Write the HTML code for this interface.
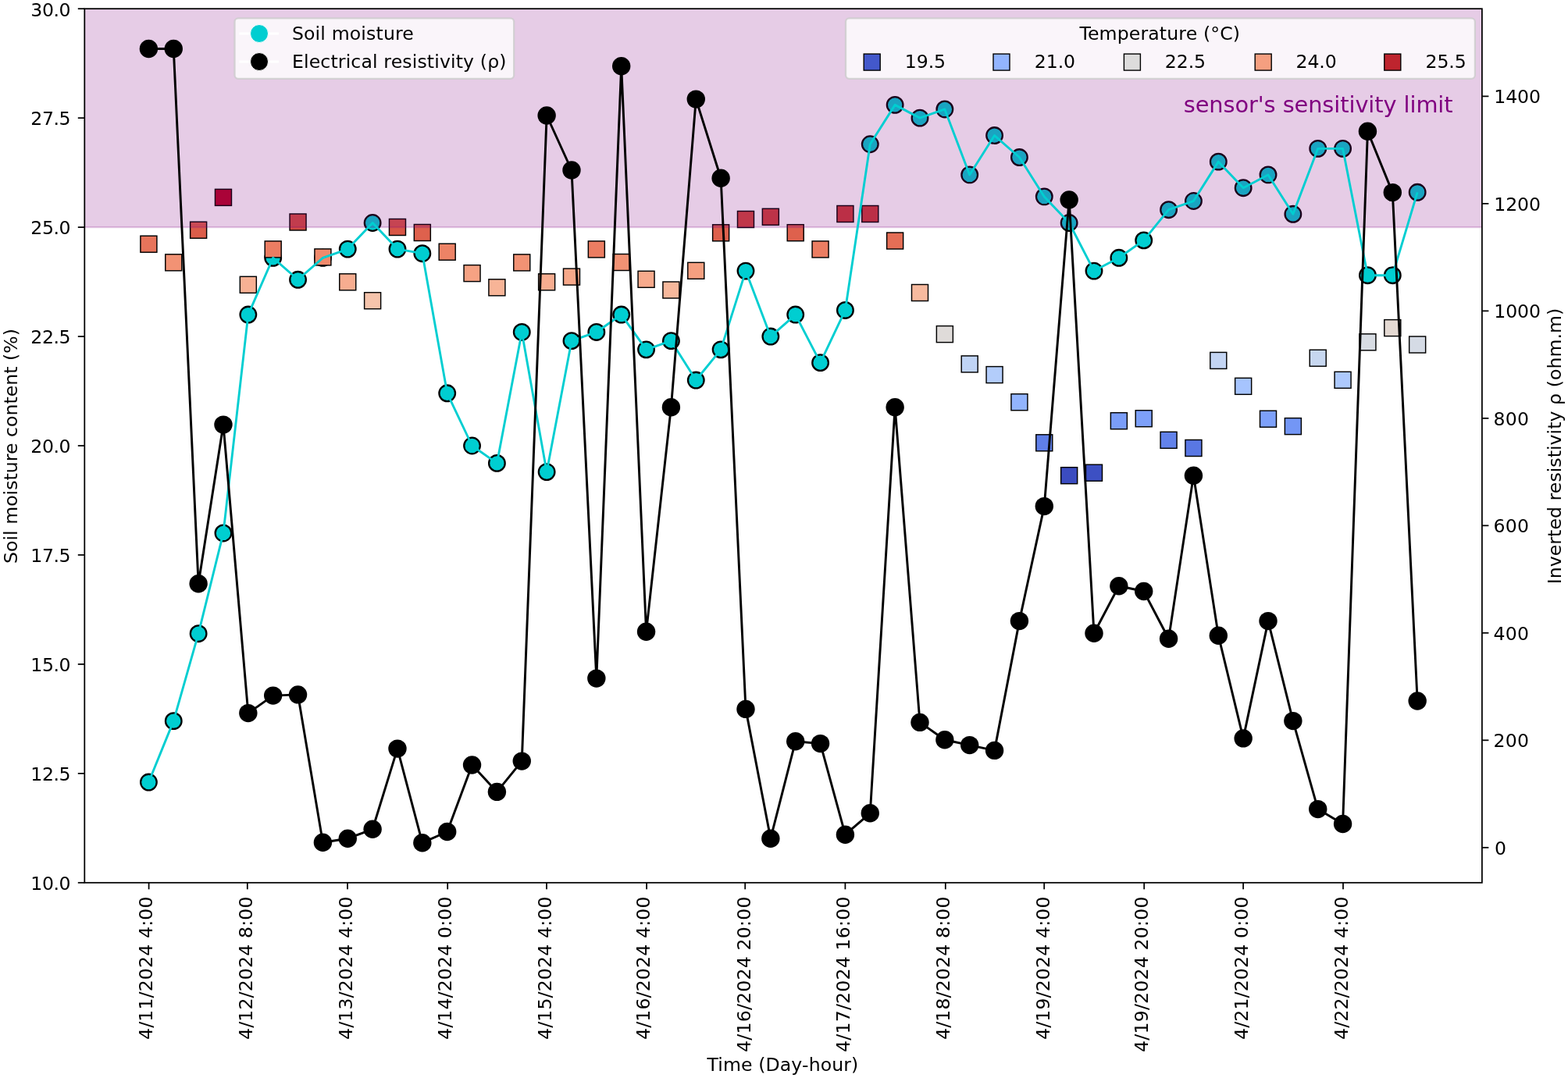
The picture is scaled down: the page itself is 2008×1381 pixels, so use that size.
<!DOCTYPE html>
<html lang="en">
<head>
<meta charset="utf-8">
<title>Soil moisture and electrical resistivity</title>
<style>
html,body{margin:0;padding:0;background:#fff;}
body{width:2008px;height:1381px;overflow:hidden;}
svg{display:block;}
</style>
</head>
<body>
<svg width="2008" height="1381" viewBox="0 0 2008 1381" font-family="'DejaVu Sans','Liberation Sans',sans-serif" font-size="23.6" fill="#000">
<rect x="0" y="0" width="2008" height="1381" fill="#fff"/>
<defs><filter id="soft" filterUnits="userSpaceOnUse" x="0" y="0" width="2008" height="1381" color-interpolation-filters="sRGB"><feGaussianBlur stdDeviation="0.55"/></filter></defs>
<g filter="url(#soft)">
<rect x="-20" y="-20" width="2048" height="1421" fill="#fff"/>
<defs><clipPath id="ax"><rect x="108.3" y="11.2" width="1789.6000000000001" height="1119.6"/></clipPath></defs>
<g clip-path="url(#ax)">
<g fill="#00ced1" stroke="#000" stroke-width="2.3">
<circle cx="190.40" cy="1002.05" r="10.3"/>
<circle cx="222.26" cy="923.67" r="10.3"/>
<circle cx="254.12" cy="811.71" r="10.3"/>
<circle cx="285.97" cy="682.96" r="10.3"/>
<circle cx="317.83" cy="403.06" r="10.3"/>
<circle cx="349.69" cy="330.29" r="10.3"/>
<circle cx="381.55" cy="358.28" r="10.3"/>
<circle cx="413.41" cy="330.29" r="10.3"/>
<circle cx="445.26" cy="319.09" r="10.3"/>
<circle cx="477.12" cy="285.50" r="10.3"/>
<circle cx="508.98" cy="319.09" r="10.3"/>
<circle cx="540.84" cy="324.69" r="10.3"/>
<circle cx="572.70" cy="503.82" r="10.3"/>
<circle cx="604.55" cy="571.00" r="10.3"/>
<circle cx="636.41" cy="593.39" r="10.3"/>
<circle cx="668.27" cy="425.45" r="10.3"/>
<circle cx="700.13" cy="604.59" r="10.3"/>
<circle cx="731.99" cy="436.65" r="10.3"/>
<circle cx="763.84" cy="425.45" r="10.3"/>
<circle cx="795.70" cy="403.06" r="10.3"/>
<circle cx="827.56" cy="447.84" r="10.3"/>
<circle cx="859.42" cy="436.65" r="10.3"/>
<circle cx="891.28" cy="487.03" r="10.3"/>
<circle cx="923.13" cy="447.84" r="10.3"/>
<circle cx="954.99" cy="347.08" r="10.3"/>
<circle cx="986.85" cy="431.05" r="10.3"/>
<circle cx="1018.71" cy="403.06" r="10.3"/>
<circle cx="1050.57" cy="464.64" r="10.3"/>
<circle cx="1082.42" cy="397.46" r="10.3"/>
<circle cx="1114.28" cy="184.74" r="10.3"/>
<circle cx="1146.14" cy="134.36" r="10.3"/>
<circle cx="1178.00" cy="151.15" r="10.3"/>
<circle cx="1209.86" cy="139.95" r="10.3"/>
<circle cx="1241.71" cy="223.92" r="10.3"/>
<circle cx="1273.57" cy="173.54" r="10.3"/>
<circle cx="1305.43" cy="201.53" r="10.3"/>
<circle cx="1337.29" cy="251.91" r="10.3"/>
<circle cx="1369.15" cy="285.50" r="10.3"/>
<circle cx="1401.00" cy="347.08" r="10.3"/>
<circle cx="1432.86" cy="330.29" r="10.3"/>
<circle cx="1464.72" cy="307.89" r="10.3"/>
<circle cx="1496.58" cy="268.71" r="10.3"/>
<circle cx="1528.44" cy="257.51" r="10.3"/>
<circle cx="1560.29" cy="207.13" r="10.3"/>
<circle cx="1592.15" cy="240.72" r="10.3"/>
<circle cx="1624.01" cy="223.92" r="10.3"/>
<circle cx="1655.87" cy="274.31" r="10.3"/>
<circle cx="1687.73" cy="190.34" r="10.3"/>
<circle cx="1719.58" cy="190.34" r="10.3"/>
<circle cx="1751.44" cy="352.68" r="10.3"/>
<circle cx="1783.30" cy="352.68" r="10.3"/>
<circle cx="1815.16" cy="246.32" r="10.3"/>
</g>
<g stroke="#000" stroke-width="1.45">
<rect x="179.90" y="302.20" width="21.0" height="21.0" fill="#e7745b"/>
<rect x="211.76" y="325.80" width="21.0" height="21.0" fill="#f29274"/>
<rect x="243.62" y="284.20" width="21.0" height="21.0" fill="#dc5d4a"/>
<rect x="275.47" y="242.40" width="21.0" height="21.0" fill="#b40426"/>
<rect x="307.33" y="354.30" width="21.0" height="21.0" fill="#f7b194"/>
<rect x="339.19" y="308.90" width="21.0" height="21.0" fill="#eb7d62"/>
<rect x="371.05" y="274.00" width="21.0" height="21.0" fill="#d24b40"/>
<rect x="402.91" y="318.90" width="21.0" height="21.0" fill="#f08a6c"/>
<rect x="434.76" y="350.80" width="21.0" height="21.0" fill="#f7ad90"/>
<rect x="466.62" y="374.70" width="21.0" height="21.0" fill="#f5c4ac"/>
<rect x="498.48" y="280.50" width="21.0" height="21.0" fill="#d85646"/>
<rect x="530.34" y="287.50" width="21.0" height="21.0" fill="#de614d"/>
<rect x="562.20" y="312.20" width="21.0" height="21.0" fill="#ed8366"/>
<rect x="594.05" y="339.60" width="21.0" height="21.0" fill="#f6a283"/>
<rect x="625.91" y="357.80" width="21.0" height="21.0" fill="#f7b497"/>
<rect x="657.77" y="325.90" width="21.0" height="21.0" fill="#f29274"/>
<rect x="689.63" y="350.80" width="21.0" height="21.0" fill="#f7ad90"/>
<rect x="721.49" y="344.10" width="21.0" height="21.0" fill="#f7a889"/>
<rect x="753.34" y="308.90" width="21.0" height="21.0" fill="#eb7d62"/>
<rect x="785.20" y="325.50" width="21.0" height="21.0" fill="#f29274"/>
<rect x="817.06" y="347.30" width="21.0" height="21.0" fill="#f7aa8c"/>
<rect x="848.92" y="361.00" width="21.0" height="21.0" fill="#f7b89c"/>
<rect x="880.78" y="336.30" width="21.0" height="21.0" fill="#f59f80"/>
<rect x="912.63" y="287.80" width="21.0" height="21.0" fill="#de614d"/>
<rect x="944.49" y="270.50" width="21.0" height="21.0" fill="#d0473d"/>
<rect x="976.35" y="267.30" width="21.0" height="21.0" fill="#cc403a"/>
<rect x="1008.21" y="287.70" width="21.0" height="21.0" fill="#de614d"/>
<rect x="1040.07" y="308.90" width="21.0" height="21.0" fill="#eb7d62"/>
<rect x="1071.92" y="263.50" width="21.0" height="21.0" fill="#ca3b37"/>
<rect x="1103.78" y="263.50" width="21.0" height="21.0" fill="#ca3b37"/>
<rect x="1135.64" y="298.00" width="21.0" height="21.0" fill="#e46e56"/>
<rect x="1167.50" y="364.50" width="21.0" height="21.0" fill="#f7ba9f"/>
<rect x="1199.36" y="417.60" width="21.0" height="21.0" fill="#dfdbd9"/>
<rect x="1231.21" y="455.90" width="21.0" height="21.0" fill="#c0d4f5"/>
<rect x="1263.07" y="469.60" width="21.0" height="21.0" fill="#b3cdfb"/>
<rect x="1294.93" y="504.70" width="21.0" height="21.0" fill="#92b4fe"/>
<rect x="1326.79" y="556.80" width="21.0" height="21.0" fill="#5f7fe8"/>
<rect x="1358.65" y="598.70" width="21.0" height="21.0" fill="#3b4cc0"/>
<rect x="1390.50" y="595.20" width="21.0" height="21.0" fill="#3d50c3"/>
<rect x="1422.36" y="528.70" width="21.0" height="21.0" fill="#7a9df8"/>
<rect x="1454.22" y="525.70" width="21.0" height="21.0" fill="#7da0f9"/>
<rect x="1486.08" y="553.30" width="21.0" height="21.0" fill="#6282ea"/>
<rect x="1517.94" y="563.50" width="21.0" height="21.0" fill="#5977e3"/>
<rect x="1549.79" y="451.40" width="21.0" height="21.0" fill="#c4d5f3"/>
<rect x="1581.65" y="484.30" width="21.0" height="21.0" fill="#a6c4fe"/>
<rect x="1613.51" y="526.20" width="21.0" height="21.0" fill="#7da0f9"/>
<rect x="1645.37" y="535.60" width="21.0" height="21.0" fill="#7396f5"/>
<rect x="1677.23" y="448.20" width="21.0" height="21.0" fill="#c7d7f0"/>
<rect x="1709.08" y="476.30" width="21.0" height="21.0" fill="#adc9fd"/>
<rect x="1740.94" y="427.80" width="21.0" height="21.0" fill="#d7dce3"/>
<rect x="1772.80" y="409.60" width="21.0" height="21.0" fill="#e4d9d2"/>
<rect x="1804.66" y="431.00" width="21.0" height="21.0" fill="#d5dbe5"/>
</g>
<rect x="103.3" y="6.199999999999999" width="1799.6000000000001" height="284.90" fill="#800080" fill-opacity="0.2" stroke="#800080" stroke-opacity="0.2" stroke-width="2.3"/>
<polyline points="190.40,1002.05 222.26,923.67 254.12,811.71 285.97,682.96 317.83,403.06 349.69,330.29 381.55,358.28 413.41,330.29 445.26,319.09 477.12,285.50 508.98,319.09 540.84,324.69 572.70,503.82 604.55,571.00 636.41,593.39 668.27,425.45 700.13,604.59 731.99,436.65 763.84,425.45 795.70,403.06 827.56,447.84 859.42,436.65 891.28,487.03 923.13,447.84 954.99,347.08 986.85,431.05 1018.71,403.06 1050.57,464.64 1082.42,397.46 1114.28,184.74 1146.14,134.36 1178.00,151.15 1209.86,139.95 1241.71,223.92 1273.57,173.54 1305.43,201.53 1337.29,251.91 1369.15,285.50 1401.00,347.08 1432.86,330.29 1464.72,307.89 1496.58,268.71 1528.44,257.51 1560.29,207.13 1592.15,240.72 1624.01,223.92 1655.87,274.31 1687.73,190.34 1719.58,190.34 1751.44,352.68 1783.30,352.68 1815.16,246.32" fill="none" stroke="#00ced1" stroke-width="2.9" stroke-linejoin="round" stroke-linecap="butt"/>
</g>
<text x="1515.8" y="144.0" font-size="28.8" fill="#800080" textLength="344.8" lengthAdjust="spacing">sensor's sensitivity limit</text>
<rect x="300.5" y="23.4" width="357.70000000000005" height="77.5" rx="4.6" ry="4.6" fill="#fff" fill-opacity="0.8" stroke="#ccc" stroke-opacity="0.8" stroke-width="2.3"/>
<line x1="308.0" y1="43.0" x2="355.4" y2="43.0" stroke="#fff" stroke-width="3.1" stroke-linecap="square"/>
<circle cx="332" cy="43.0" r="11.5" fill="#00ced1" stroke="#fff" stroke-width="1.0"/>
<text x="373.9" y="51.4" textLength="156.0" lengthAdjust="spacing">Soil moisture</text>
<line x1="308.0" y1="79.0" x2="355.4" y2="79.0" stroke="#fff" stroke-width="3.1" stroke-linecap="square"/>
<circle cx="332" cy="79.0" r="11.5" fill="#000" stroke="#fff" stroke-width="1.0"/>
<text x="373.9" y="87.4" textLength="274.6" lengthAdjust="spacing">Electrical resistivity (ρ)</text>
<rect x="1083.0" y="23.4" width="805.9000000000001" height="77.5" rx="4.6" ry="4.6" fill="#fff" fill-opacity="0.8" stroke="#ccc" stroke-opacity="0.8" stroke-width="2.3"/>
<text x="1485.2" y="51.4" text-anchor="middle" textLength="205.5" lengthAdjust="spacing">Temperature (°C)</text>
<rect x="1106.20" y="69.10" width="21.0" height="21.0" fill="#4358cb" stroke="#000" stroke-width="1.4"/>
<text x="1158.8" y="87.4" textLength="52.3" lengthAdjust="spacing">19.5</text>
<rect x="1272.00" y="69.10" width="21.0" height="21.0" fill="#92b4fe" stroke="#000" stroke-width="1.4"/>
<text x="1324.8" y="87.4" textLength="52.3" lengthAdjust="spacing">21.0</text>
<rect x="1439.40" y="69.10" width="21.0" height="21.0" fill="#dddcdc" stroke="#000" stroke-width="1.4"/>
<text x="1491.8" y="87.4" textLength="52.3" lengthAdjust="spacing">22.5</text>
<rect x="1607.20" y="69.10" width="21.0" height="21.0" fill="#f59f80" stroke="#000" stroke-width="1.4"/>
<text x="1659.5" y="87.4" textLength="52.3" lengthAdjust="spacing">24.0</text>
<rect x="1772.80" y="69.10" width="21.0" height="21.0" fill="#be242e" stroke="#000" stroke-width="1.4"/>
<text x="1825.5" y="87.4" textLength="52.3" lengthAdjust="spacing">25.5</text>
<g stroke="#000" stroke-width="1.75" fill="none">
<line x1="99.80" y1="1130.80" x2="108.3" y2="1130.80"/>
<line x1="99.80" y1="990.85" x2="108.3" y2="990.85"/>
<line x1="99.80" y1="850.90" x2="108.3" y2="850.90"/>
<line x1="99.80" y1="710.95" x2="108.3" y2="710.95"/>
<line x1="99.80" y1="571.00" x2="108.3" y2="571.00"/>
<line x1="99.80" y1="431.05" x2="108.3" y2="431.05"/>
<line x1="99.80" y1="291.10" x2="108.3" y2="291.10"/>
<line x1="99.80" y1="151.15" x2="108.3" y2="151.15"/>
<line x1="99.80" y1="11.20" x2="108.3" y2="11.20"/>
<line x1="1897.9" y1="1085.80" x2="1906.40" y2="1085.80"/>
<line x1="1897.9" y1="948.31" x2="1906.40" y2="948.31"/>
<line x1="1897.9" y1="810.82" x2="1906.40" y2="810.82"/>
<line x1="1897.9" y1="673.33" x2="1906.40" y2="673.33"/>
<line x1="1897.9" y1="535.84" x2="1906.40" y2="535.84"/>
<line x1="1897.9" y1="398.35" x2="1906.40" y2="398.35"/>
<line x1="1897.9" y1="260.86" x2="1906.40" y2="260.86"/>
<line x1="1897.9" y1="123.37" x2="1906.40" y2="123.37"/>
<line x1="190.60" y1="1130.8" x2="190.60" y2="1139.30"/>
<line x1="316.80" y1="1130.8" x2="316.80" y2="1139.30"/>
<line x1="445.00" y1="1130.8" x2="445.00" y2="1139.30"/>
<line x1="573.20" y1="1130.8" x2="573.20" y2="1139.30"/>
<line x1="700.00" y1="1130.8" x2="700.00" y2="1139.30"/>
<line x1="828.10" y1="1130.8" x2="828.10" y2="1139.30"/>
<line x1="954.20" y1="1130.8" x2="954.20" y2="1139.30"/>
<line x1="1082.40" y1="1130.8" x2="1082.40" y2="1139.30"/>
<line x1="1210.80" y1="1130.8" x2="1210.80" y2="1139.30"/>
<line x1="1337.20" y1="1130.8" x2="1337.20" y2="1139.30"/>
<line x1="1465.20" y1="1130.8" x2="1465.20" y2="1139.30"/>
<line x1="1592.10" y1="1130.8" x2="1592.10" y2="1139.30"/>
<line x1="1720.00" y1="1130.8" x2="1720.00" y2="1139.30"/>
<rect x="108.3" y="11.2" width="1789.60" height="1119.60" stroke-linejoin="miter"/>
</g>
<text x="90.6" y="1140.10" text-anchor="end" textLength="51.3" lengthAdjust="spacing">10.0</text>
<text x="90.6" y="1000.15" text-anchor="end" textLength="51.3" lengthAdjust="spacing">12.5</text>
<text x="90.6" y="860.20" text-anchor="end" textLength="51.3" lengthAdjust="spacing">15.0</text>
<text x="90.6" y="720.25" text-anchor="end" textLength="51.3" lengthAdjust="spacing">17.5</text>
<text x="90.6" y="580.30" text-anchor="end" textLength="51.3" lengthAdjust="spacing">20.0</text>
<text x="90.6" y="440.35" text-anchor="end" textLength="51.3" lengthAdjust="spacing">22.5</text>
<text x="90.6" y="300.40" text-anchor="end" textLength="51.3" lengthAdjust="spacing">25.0</text>
<text x="90.6" y="160.45" text-anchor="end" textLength="51.3" lengthAdjust="spacing">27.5</text>
<text x="90.6" y="20.50" text-anchor="end" textLength="51.3" lengthAdjust="spacing">30.0</text>
<text x="1914.0" y="1094.70" textLength="15.3" lengthAdjust="spacing">0</text>
<text x="1912.4" y="957.21" textLength="45.7" lengthAdjust="spacing">200</text>
<text x="1912.4" y="819.72" textLength="45.7" lengthAdjust="spacing">400</text>
<text x="1912.4" y="682.23" textLength="45.7" lengthAdjust="spacing">600</text>
<text x="1912.4" y="544.74" textLength="45.7" lengthAdjust="spacing">800</text>
<text x="1913.3" y="407.25" textLength="59.6" lengthAdjust="spacing">1000</text>
<text x="1913.3" y="269.76" textLength="59.6" lengthAdjust="spacing">1200</text>
<text x="1913.3" y="132.27" textLength="59.6" lengthAdjust="spacing">1400</text>
<text transform="translate(194.60,1148.6) rotate(-90)" text-anchor="end" textLength="183.4" lengthAdjust="spacing">4/11/2024 4:00</text>
<text transform="translate(322.93,1148.6) rotate(-90)" text-anchor="end" textLength="183.4" lengthAdjust="spacing">4/12/2024 8:00</text>
<text transform="translate(450.96,1148.6) rotate(-90)" text-anchor="end" textLength="183.4" lengthAdjust="spacing">4/13/2024 4:00</text>
<text transform="translate(578.10,1148.6) rotate(-90)" text-anchor="end" textLength="183.4" lengthAdjust="spacing">4/14/2024 0:00</text>
<text transform="translate(705.83,1148.6) rotate(-90)" text-anchor="end" textLength="183.4" lengthAdjust="spacing">4/15/2024 4:00</text>
<text transform="translate(831.76,1148.6) rotate(-90)" text-anchor="end" textLength="183.4" lengthAdjust="spacing">4/16/2024 4:00</text>
<text transform="translate(960.79,1148.6) rotate(-90)" text-anchor="end" textLength="199.3" lengthAdjust="spacing">4/16/2024 20:00</text>
<text transform="translate(1088.12,1148.6) rotate(-90)" text-anchor="end" textLength="199.3" lengthAdjust="spacing">4/17/2024 16:00</text>
<text transform="translate(1215.56,1148.6) rotate(-90)" text-anchor="end" textLength="183.4" lengthAdjust="spacing">4/18/2024 8:00</text>
<text transform="translate(1343.89,1148.6) rotate(-90)" text-anchor="end" textLength="183.4" lengthAdjust="spacing">4/19/2024 4:00</text>
<text transform="translate(1470.42,1148.6) rotate(-90)" text-anchor="end" textLength="199.3" lengthAdjust="spacing">4/19/2024 20:00</text>
<text transform="translate(1597.85,1148.6) rotate(-90)" text-anchor="end" textLength="183.4" lengthAdjust="spacing">4/21/2024 0:00</text>
<text transform="translate(1726.18,1148.6) rotate(-90)" text-anchor="end" textLength="183.4" lengthAdjust="spacing">4/22/2024 4:00</text>
<text x="1002.4" y="1371.5" text-anchor="middle" textLength="193.8" lengthAdjust="spacing">Time (Day-hour)</text>
<text transform="translate(22.2,571.5) rotate(-90)" text-anchor="middle" textLength="301" lengthAdjust="spacing">Soil moisture content (%)</text>
<text transform="translate(1999.3,571.5) rotate(-90)" text-anchor="middle" textLength="353.6" lengthAdjust="spacing">Inverted resistivity ρ (ohm.m)</text>
<g clip-path="url(#ax)">
<polyline points="190.40,62.50 222.26,62.50 254.12,747.70 285.97,544.10 317.83,913.60 349.69,891.10 381.55,889.90 413.41,1079.20 445.26,1074.20 477.12,1062.30 508.98,959.10 540.84,1079.70 572.70,1065.50 604.55,980.00 636.41,1014.40 668.27,975.10 700.13,148.00 731.99,218.00 763.84,869.10 795.70,84.70 827.56,809.30 859.42,521.70 891.28,127.10 923.13,228.20 954.99,908.40 986.85,1074.20 1018.71,949.70 1050.57,952.60 1082.42,1069.20 1114.28,1041.80 1146.14,521.70 1178.00,925.40 1209.86,947.70 1241.71,954.60 1273.57,961.40 1305.43,795.60 1337.29,648.60 1369.15,255.90 1401.00,811.30 1432.86,750.70 1464.72,757.50 1496.58,818.20 1528.44,609.20 1560.29,814.20 1592.15,945.90 1624.01,795.60 1655.87,923.60 1687.73,1036.60 1719.58,1055.50 1751.44,168.20 1783.30,246.60 1815.16,898.00" fill="none" stroke="#000" stroke-width="2.95" stroke-linejoin="round"/>
<g fill="#000">
<circle cx="190.40" cy="62.50" r="11.7"/>
<circle cx="222.26" cy="62.50" r="11.7"/>
<circle cx="254.12" cy="747.70" r="11.7"/>
<circle cx="285.97" cy="544.10" r="11.7"/>
<circle cx="317.83" cy="913.60" r="11.7"/>
<circle cx="349.69" cy="891.10" r="11.7"/>
<circle cx="381.55" cy="889.90" r="11.7"/>
<circle cx="413.41" cy="1079.20" r="11.7"/>
<circle cx="445.26" cy="1074.20" r="11.7"/>
<circle cx="477.12" cy="1062.30" r="11.7"/>
<circle cx="508.98" cy="959.10" r="11.7"/>
<circle cx="540.84" cy="1079.70" r="11.7"/>
<circle cx="572.70" cy="1065.50" r="11.7"/>
<circle cx="604.55" cy="980.00" r="11.7"/>
<circle cx="636.41" cy="1014.40" r="11.7"/>
<circle cx="668.27" cy="975.10" r="11.7"/>
<circle cx="700.13" cy="148.00" r="11.7"/>
<circle cx="731.99" cy="218.00" r="11.7"/>
<circle cx="763.84" cy="869.10" r="11.7"/>
<circle cx="795.70" cy="84.70" r="11.7"/>
<circle cx="827.56" cy="809.30" r="11.7"/>
<circle cx="859.42" cy="521.70" r="11.7"/>
<circle cx="891.28" cy="127.10" r="11.7"/>
<circle cx="923.13" cy="228.20" r="11.7"/>
<circle cx="954.99" cy="908.40" r="11.7"/>
<circle cx="986.85" cy="1074.20" r="11.7"/>
<circle cx="1018.71" cy="949.70" r="11.7"/>
<circle cx="1050.57" cy="952.60" r="11.7"/>
<circle cx="1082.42" cy="1069.20" r="11.7"/>
<circle cx="1114.28" cy="1041.80" r="11.7"/>
<circle cx="1146.14" cy="521.70" r="11.7"/>
<circle cx="1178.00" cy="925.40" r="11.7"/>
<circle cx="1209.86" cy="947.70" r="11.7"/>
<circle cx="1241.71" cy="954.60" r="11.7"/>
<circle cx="1273.57" cy="961.40" r="11.7"/>
<circle cx="1305.43" cy="795.60" r="11.7"/>
<circle cx="1337.29" cy="648.60" r="11.7"/>
<circle cx="1369.15" cy="255.90" r="11.7"/>
<circle cx="1401.00" cy="811.30" r="11.7"/>
<circle cx="1432.86" cy="750.70" r="11.7"/>
<circle cx="1464.72" cy="757.50" r="11.7"/>
<circle cx="1496.58" cy="818.20" r="11.7"/>
<circle cx="1528.44" cy="609.20" r="11.7"/>
<circle cx="1560.29" cy="814.20" r="11.7"/>
<circle cx="1592.15" cy="945.90" r="11.7"/>
<circle cx="1624.01" cy="795.60" r="11.7"/>
<circle cx="1655.87" cy="923.60" r="11.7"/>
<circle cx="1687.73" cy="1036.60" r="11.7"/>
<circle cx="1719.58" cy="1055.50" r="11.7"/>
<circle cx="1751.44" cy="168.20" r="11.7"/>
<circle cx="1783.30" cy="246.60" r="11.7"/>
<circle cx="1815.16" cy="898.00" r="11.7"/>
</g></g>
</g>
</svg>
</body>
</html>
